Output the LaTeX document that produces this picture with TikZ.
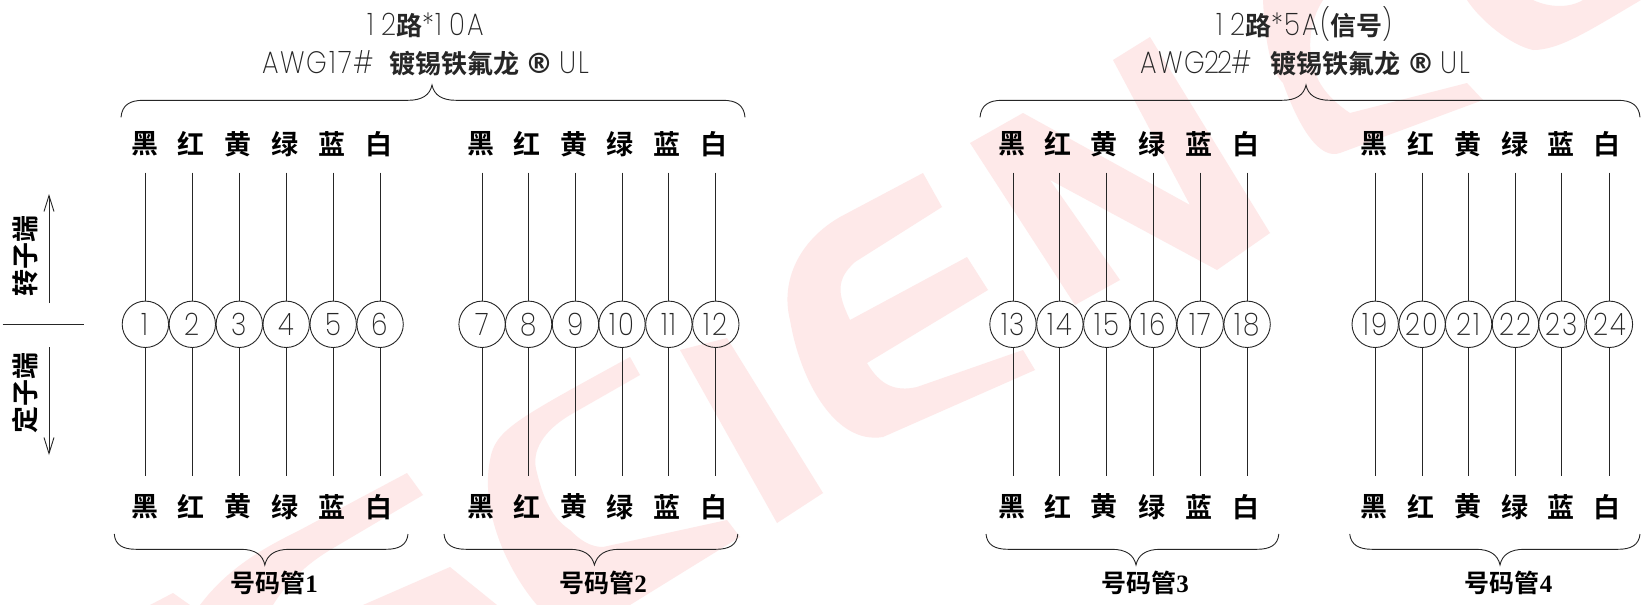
\documentclass[tikz,border=0pt]{standalone}
\usepackage{fontspec}
\usetikzlibrary{arrows.meta}
\setmainfont{Liberation Sans}
\newfontfamily\cjkb{Noto Sans CJK SC Bold}
\newfontfamily\thinf[FakeStretch=0.85,LetterSpace=6]{Poppins ExtraLight}
\newfontfamily\serifb{Liberation Serif Bold}
\newfontfamily\regm{DejaVu Sans Bold}
\definecolor{wm}{HTML}{FEE9E9}
\definecolor{ink}{HTML}{262626}
\newcommand{\thintxt}[1]{{\thinf\fontsize{31}{31}\selectfont #1}}
\newcommand{\cj}[1]{{\cjkb\fontsize{26}{26}\selectfont #1}}
\newcommand{\regmark}{{\regm\fontsize{28}{28}\selectfont ®}}
\tikzset{
  wire/.style={draw=ink,line width=0.9pt},
  numc/.style={circle,draw=ink,line width=0.9pt,minimum size=46.4pt,inner sep=0pt,text=ink,font=\thinf\fontsize{31}{31}\selectfont},
  colr/.style={inner sep=0pt,font=\cjkb\fontsize{27}{27}\selectfont,text=black},
  grp/.style={inner sep=0pt,text=black},
  ttl/.style={inner sep=0pt,text=ink,anchor=base west},
  wmk/.style={fill=wm,draw=none}
}
\begin{document}
\begin{tikzpicture}[x=1pt,y=-1pt]
\useasboundingbox (0,0) rectangle (1641,605);
\fill[white] (0,0) rectangle (1641,605);
% watermark letters
\begin{scope}
\clip (0,0) rectangle (1641,605);
\fill[wmk] (407,473) -- (423,495) -- (330,550) .. controls (305,565) and (285,585) .. (273,605) -- (200,605) .. controls (230,565) and (270,545) .. (300,530) -- cycle;
\fill[wmk] (363,605) -- (450,567) -- (497,605) -- cycle;
\fill[wmk] (150,605) -- (173,593) -- (190,605) -- cycle;
\fill[wmk] (630,357) -- (640,375) -- (570,415) .. controls (545,430) and (530,450) .. (537,473) .. controls (545,505) and (555,520) .. (570,530) .. controls (580,540) and (590,547) .. (603,547) -- (727,520) -- (740,537) -- (630,605) -- (537,605) .. controls (507,570) and (480,510) .. (490,460) .. controls (495,430) and (515,420) .. cycle;
\fill[wmk] (680,350) -- (727,338) -- (823,493) -- (777,523) -- cycle;
\fill[wmk] (923,173) -- (840,217) .. controls (800,240) and (780,280) .. (790,320) .. controls (800,380) and (835,445) .. (883,437) -- (1035,370) -- (1023,350) -- (917,387) .. controls (895,392) and (880,385) .. (867,363) -- (988,290) -- (967,257) -- (850,320) .. controls (838,295) and (835,280) .. (855,262) -- (942,207) -- cycle;
\fill[wmk] (970,143) -- (1023,113) -- (1190,205) -- (1113,60) -- (1150,37) -- (1270,233) -- (1217,270) -- (1050,180) -- (1120,280) -- (1075,305) -- cycle;
\fill[wmk] (1263,0) .. controls (1265,40) and (1270,70) .. (1283,83) .. controls (1300,130) and (1320,160) .. (1340,153) -- (1483,100) -- (1467,83) -- (1350,113) .. controls (1330,100) and (1320,85) .. (1317,77) .. controls (1305,50) and (1310,20) .. (1323,0) -- cycle;
\fill[wmk] (1467,0) .. controls (1480,20) and (1510,45) .. (1533,50) .. controls (1560,50) and (1590,30) .. (1641,0) -- (1583,0) .. controls (1570,8) and (1550,8) .. (1533,0) -- cycle;
\end{scope}
% circles, wires, colour labels
\foreach \n/\x in {1/145.4,2/192.3,3/239.3,4/286.2,5/333.2,6/380.1,7/482.1,8/528.6,9/575.5,10/622,11/668.9,12/715.8,13/1013,14/1059.9,15/1106.8,16/1153.3,17/1200.2,18/1247.1,19/1375.2,20/1422.1,21/1468.6,22/1515.5,23/1561.9,24/1609.4}{
  \node[numc] (c\n) at (\x,324.3) {\n};
  \coordinate (up\n) at (\x,172.7);
  \coordinate (dn\n) at (\x,476);
  \draw[wire] (up\n) -- (c\n.north);
  \draw[wire] (c\n.south) -- (dn\n);
}
\foreach \i/\t/\x in {1/黑/145,2/红/191,3/黄/238,4/绿/285,5/蓝/332,6/白/378.6,7/黑/481,8/红/527,9/黄/574,10/绿/620,11/蓝/667,12/白/714,13/黑/1012,14/红/1058,15/黄/1104,16/绿/1152,17/蓝/1199,18/白/1245.6,19/黑/1373.7,20/红/1421,21/黄/1467.6,22/绿/1514.5,23/蓝/1561,24/白/1607}{
  \node[colr] (lt\i) at (\x,144) {\t};
  \node[colr] (lb\i) at (\x,506.7) {\t};
}
% braces
\draw[wire] (121,117.3) .. controls (122,105) and (130,100.3) .. (143,100.3) -- (408,100.3) .. controls (422,100.3) and (430,95) .. (432,85) .. controls (434,95) and (442,100.3) .. (456,100.3) -- (723,100.3) .. controls (736,100.3) and (744,105) .. (745,117.3);
\draw[wire] (980,117.3) .. controls (981,105) and (989,100.3) .. (1002,100.3) -- (1282,100.3) .. controls (1296,100.3) and (1304,95) .. (1306,85) .. controls (1308,95) and (1316,100.3) .. (1330,100.3) -- (1618,100.3) .. controls (1631,100.3) and (1639,105) .. (1640,117.3);
\draw[wire] (114.3,534) .. controls (115,545) and (123,549.3) .. (136,549.3) -- (241,549.3) .. controls (255,549.3) and (263,555) .. (264.8,565) .. controls (267,555) and (275,549.3) .. (289,549.3) -- (386,549.3) .. controls (399,549.3) and (407,545) .. (408,534);
\draw[wire] (444,534) .. controls (445,545) and (453,549.3) .. (466,549.3) -- (570,549.3) .. controls (584,549.3) and (592,555) .. (594.4,565) .. controls (597,555) and (605,549.3) .. (619,549.3) -- (716,549.3) .. controls (729,549.3) and (737,545) .. (737.8,534);
\draw[wire] (986,534) .. controls (987,545) and (995,549.3) .. (1008,549.3) -- (1112,549.3) .. controls (1126,549.3) and (1134,555) .. (1136,565) .. controls (1138,555) and (1146,549.3) .. (1160,549.3) -- (1257,549.3) .. controls (1270,549.3) and (1278,545) .. (1278.8,534);
\draw[wire] (1349.7,534) .. controls (1351,545) and (1359,549.3) .. (1372,549.3) -- (1476,549.3) .. controls (1490,549.3) and (1498,555) .. (1500,565) .. controls (1502,555) and (1510,549.3) .. (1524,549.3) -- (1618,549.3) .. controls (1631,549.3) and (1639,545) .. (1640,534);
% group labels
\foreach \k/\x in {1/274,2/603,3/1145,4/1508.5}{
  \node[grp] (g\k) at (\x,583) {\cj{\fontsize{25}{25}\selectfont 号码管}{\serifb\fontsize{25}{25}\selectfont \k}};
}
% titles
\node[ttl] (t1a) at (367,35) {\thintxt{1\hspace{7pt}2}\cj{路}\thintxt{*1\hspace{7pt}0A}};
\node[ttl] (t1b) at (262,73) {\thintxt{AWG17\#}\hspace{15pt}\cj{镀锡铁氟龙}\hspace{6pt}\regmark\hspace{6pt}\thintxt{UL}};
\node[ttl] (t2a) at (1216,35) {\thintxt{1\hspace{7pt}2}\cj{路}\thintxt{*5A(}\cj{信号}\thintxt{)}};
\node[ttl] (t2b) at (1140,73) {\thintxt{AWG\hspace{-1.5pt}2\hspace{-1.5pt}2\hspace{-1.5pt}\#}\hspace{19pt}\cj{镀锡铁氟龙}\hspace{6pt}\regmark\hspace{6pt}\thintxt{UL}};
% side marks
\coordinate (a1s) at (49,303); \coordinate (a1e) at (49,194);
\coordinate (a2s) at (49,347); \coordinate (a2e) at (49,455);
\coordinate (s1) at (2.5,324.3); \coordinate (s2) at (84,324.3);
\draw[wire,-{Straight Barb[length=16pt,width=10pt]}] (a1s) -- (a1e);
\draw[wire,-{Straight Barb[length=16pt,width=10pt]}] (a2s) -- (a2e);
\draw[wire] (s1) -- (s2);
\node[colr,rotate=90,font=\cjkb\fontsize{27}{27}\selectfont] (rot) at (25.5,256) {转子端};
\node[colr,rotate=90,font=\cjkb\fontsize{27}{27}\selectfont] (sta) at (25.5,393) {定子端};
\end{tikzpicture}
\end{document}
